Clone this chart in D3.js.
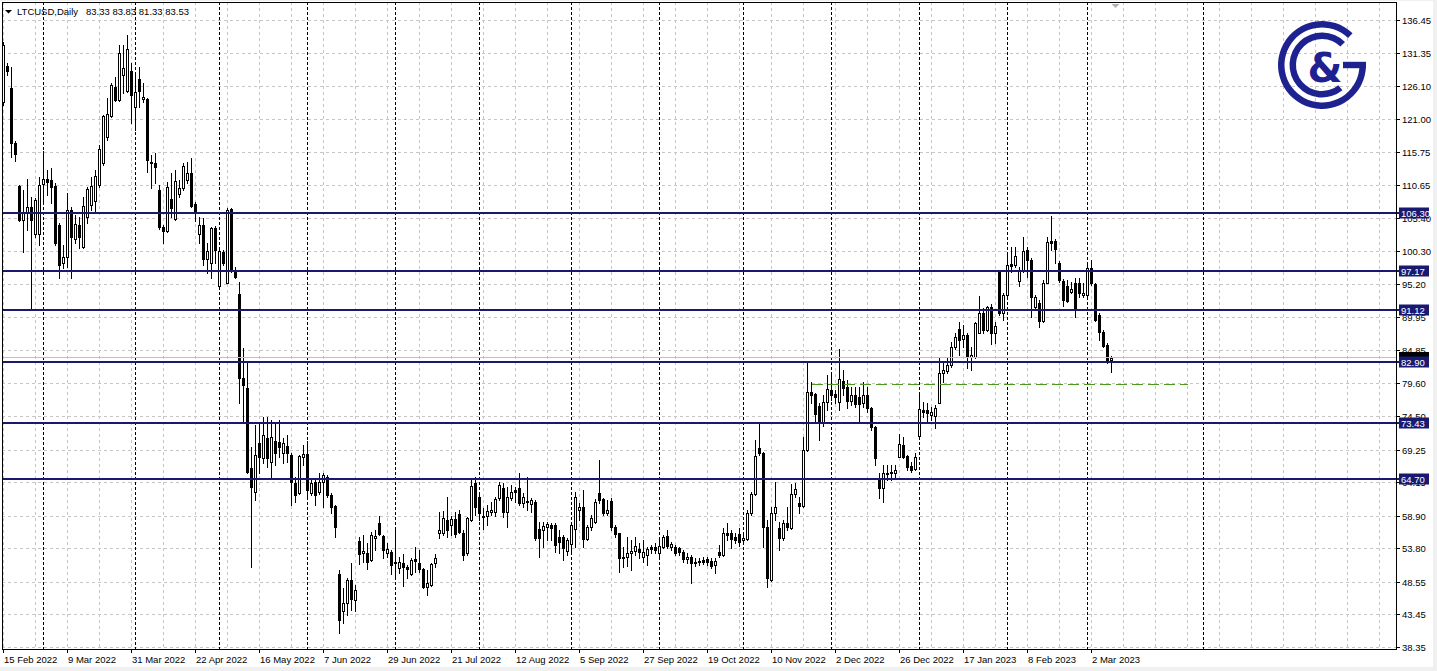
<!DOCTYPE html>
<html><head><meta charset="utf-8">
<script src="https://cdn.jsdelivr.net/npm/d3@7"></script>
<style>
html,body{margin:0;padding:0;background:#f0f0f0;}
svg{display:block;}
text{font-family:"Liberation Sans",Arial,sans-serif;}
</style></head><body>
<svg id="c" width="1437" height="671"></svg>
<script>
// ---------------- DATA ----------------
const symbolTitle = "LTCUSD,Daily";
const firstBarDate = "2022-02-15";          // daily bars, weekdays only
const openP = [123.67,129.25,125.75,117.15,110.47,105.15,106.20,107.19,102.96,102.96,110.73,111.52,111.41,110.47,104.37,98.37,99.42,106.72,102.13,104.37,
100.88,105.57,107.50,108.18,110.63,114.02,118.09,121.43,126.01,123.93,127.84,125.39,128.47,122.89,127.16,124.03,124.03,114.28,114.02,109.85,
104.01,103.38,108.39,105.26,109.22,110.21,111.41,112.56,107.66,102.91,104.37,99.05,98.37,103.96,94.83,100.20,95.35,106.88,97.23,93.57,
80.38,78.82,66.30,62.65,70.21,67.87,70.99,67.34,70.63,70.37,68.75,69.85,68.39,63.95,62.39,68.12,68.54,62.49,64.21,62.65,
64.21,65.00,62.13,60.41,49.77,44.03,45.18,48.83,45.70,54.93,53.00,53.00,51.96,55.35,57.80,55.71,53.00,53.26,51.54,50.65,
51.44,50.92,49.77,52.06,51.44,50.50,47.79,48.05,51.44,56.13,56.13,58.22,57.43,58.32,59.15,56.13,53.00,58.22,64.06,61.87,
58.63,58.84,59.52,59.52,61.61,63.17,59.52,61.61,62.91,63.17,60.82,61.19,60.67,61.08,56.76,56.65,57.17,57.43,57.43,55.50,
55.50,53.42,54.46,56.76,59.78,60.30,55.19,57.07,57.96,62.49,61.45,59.26,61.24,57.07,56.13,52.22,52.38,53.00,53.42,53.63,
52.48,52.74,53.94,53.94,53.00,54.04,55.71,53.94,53.94,53.78,53.26,52.06,52.48,51.70,51.85,51.96,52.06,51.85,51.18,53.26,
52.74,56.24,56.13,55.50,56.03,55.09,55.19,59.26,62.23,69.43,68.75,57.07,48.83,59.36,56.91,55.35,57.80,56.91,62.28,60.82,
60.41,69.17,78.29,77.93,76.05,73.44,76.73,78.55,77.93,76.73,80.01,78.97,76.89,77.77,77.41,76.47,77.77,75.79,72.71,64.58,
63.17,65.41,65.52,65.62,68.12,69.95,68.23,66.66,66.14,71.36,75.43,75.43,74.64,74.49,76.57,81.16,81.58,82.47,85.33,88.05,
86.48,87.16,83.66,83.77,87.52,90.55,87.94,91.49,87.42,97.07,90.55,93.42,98.22,98.11,95.66,97.33,100.46,98.89,91.49,92.11,
89.40,95.35,101.92,101.92,98.48,95.66,94.83,93.94,95.24,95.24,93.42,93.42,97.59,95.14,90.29,87.68,85.59,83.33];
const highP = [133.00,129.80,129.14,117.50,110.63,109.85,111.57,108.80,108.54,111.93,116.00,112.98,113.24,110.89,104.74,101.24,109.33,107.24,105.94,105.68,
108.80,110.37,111.93,112.98,116.89,121.58,124.19,126.54,127.58,132.53,132.53,134.10,129.67,128.36,129.14,126.54,124.19,115.32,115.58,110.63,
104.37,111.15,112.46,112.98,111.41,114.02,114.28,114.80,108.02,105.68,105.42,101.50,104.11,104.22,100.72,100.46,107.08,106.98,97.85,95.50,
85.07,82.99,69.69,73.08,73.34,74.38,74.38,73.86,73.45,73.86,70.99,71.52,68.65,65.00,68.39,69.95,70.63,64.47,64.47,65.52,
65.62,65.26,62.39,60.56,50.40,47.53,49.09,51.44,48.05,55.61,55.87,54.67,56.39,56.65,58.84,55.87,54.57,53.52,56.65,52.48,
52.90,51.18,52.22,54.04,53.52,50.66,50.40,51.54,52.90,59.52,59.68,61.87,58.84,59.52,59.78,56.65,58.74,64.47,64.99,62.39,
60.04,60.56,61.08,61.87,64.21,63.95,63.43,63.69,63.43,65.52,62.39,64.89,61.61,61.35,57.96,57.96,57.96,57.69,57.69,56.65,
55.87,55.35,57.69,62.65,60.82,62.91,57.43,59.00,61.45,67.60,61.61,61.35,61.61,57.43,56.24,54.04,55.61,55.09,55.61,54.57,
55.09,54.04,54.31,54.57,55.61,55.87,56.65,54.83,54.31,54.04,53.52,53.00,52.74,52.22,52.22,52.38,52.48,52.22,52.22,54.31,
56.91,57.69,56.65,56.13,56.91,55.87,59.78,62.65,70.73,73.60,68.91,58.22,60.30,64.21,57.96,58.22,60.30,63.85,63.95,61.87,
71.25,83.14,79.86,78.03,76.47,77.77,80.90,81.16,78.55,84.92,81.68,80.12,79.07,79.07,79.07,79.86,79.07,75.95,72.92,65.52,
66.82,66.82,66.82,66.82,71.67,71.25,68.39,67.34,68.65,78.29,76.73,76.47,75.95,76.21,83.51,82.99,83.51,86.00,87.42,89.24,
88.72,87.42,85.33,89.24,93.26,91.33,91.70,92.01,89.24,97.33,93.68,99.94,100.98,100.98,97.85,102.44,100.87,99.15,93.42,92.63,
95.76,102.54,105.78,102.13,98.79,95.87,95.76,95.50,96.02,96.02,95.24,98.63,98.89,95.35,90.55,87.94,85.85,83.83];
const lowP = [123.20,127.80,115.06,114.39,105.05,100.20,103.59,91.33,102.55,101.24,107.76,109.07,107.76,101.24,96.13,97.59,97.85,96.03,101.50,100.72,
100.72,104.63,106.72,106.46,110.37,113.76,117.67,121.32,123.82,123.82,124.97,125.23,120.38,119.23,122.89,123.67,112.72,110.11,110.89,103.75,
101.50,103.28,105.68,105.15,108.80,109.85,110.89,107.24,105.05,101.50,98.11,96.81,96.03,98.37,94.72,98.11,95.25,97.07,96.03,76.47,
73.34,65.52,50.92,61.35,65.52,67.08,66.56,64.89,66.82,68.12,67.08,67.34,60.56,61.08,62.28,66.82,61.61,62.13,60.56,62.28,
60.30,61.87,59.26,55.61,40.48,42.05,43.35,44.14,44.03,51.33,51.70,50.50,51.85,53.52,55.87,52.32,52.48,49.77,48.93,49.87,
47.89,49.09,49.61,50.13,50.13,47.53,46.48,47.89,50.92,55.35,55.87,55.61,55.87,55.61,56.13,51.96,52.74,58.11,59.00,58.22,
56.76,57.43,59.00,58.84,61.35,58.74,57.17,61.35,61.08,60.56,60.30,59.78,59.52,55.09,52.38,54.04,55.09,55.09,53.26,53.00,
51.96,52.74,53.26,54.04,58.22,54.04,55.09,56.65,57.69,60.82,59.00,59.00,56.65,55.61,50.13,50.91,51.02,50.39,52.74,52.22,
51.70,51.18,53.00,53.00,52.48,53.78,53.78,53.52,52.74,52.74,51.70,51.44,48.41,51.02,51.18,51.33,51.18,50.65,49.87,52.48,
52.58,55.09,53.78,54.57,54.15,54.57,55.09,59.00,62.13,68.39,54.04,47.79,48.72,58.22,53.52,55.09,56.65,56.76,61.87,59.26,
60.30,69.06,76.47,73.34,70.73,72.92,75.43,76.99,76.47,75.43,77.77,75.69,76.21,75.95,73.60,75.95,75.16,72.30,66.82,61.61,
61.08,64.47,64.47,64.99,68.02,67.86,66.04,65.78,66.04,71.25,74.38,73.34,73.86,72.56,76.47,79.86,81.16,82.20,85.00,84.03,
85.33,81.94,81.68,83.51,87.42,87.42,87.84,85.75,85.96,90.29,89.51,93.16,97.07,97.85,94.83,97.07,96.29,90.03,91.07,88.46,
89.24,95.24,100.46,98.37,95.50,91.70,92.37,93.68,90.03,93.16,93.16,93.26,94.98,89.40,86.38,85.33,82.73,81.33];
const closeP = [132.53,128.52,117.25,115.48,105.15,106.20,107.19,105.15,108.28,110.63,111.52,111.15,110.37,101.50,98.11,99.31,106.72,102.55,104.53,102.55,
107.40,109.95,110.47,112.04,116.21,121.43,121.74,126.28,123.93,131.23,128.88,131.86,124.71,125.23,125.34,124.35,114.54,114.02,113.39,104.01,
103.38,110.37,106.98,111.26,110.11,113.60,112.56,107.40,106.20,104.37,99.05,100.36,103.96,100.46,100.36,98.37,106.72,97.23,96.18,80.38,
79.34,65.78,63.43,68.39,68.12,71.52,67.87,71.26,68.65,69.69,70.32,68.65,64.21,62.13,68.28,68.54,62.91,64.06,62.13,64.21,
65.26,62.13,60.30,57.17,42.57,45.18,48.83,45.80,47.27,52.90,53.37,51.70,55.87,55.71,55.97,53.52,53.63,51.18,51.70,51.70,
50.92,50.50,51.96,51.85,50.50,47.79,48.41,51.28,52.22,56.65,58.48,56.65,58.32,56.03,56.39,52.74,58.48,63.54,60.30,59.26,
58.84,59.68,59.78,61.45,63.69,59.52,61.87,62.65,62.65,60.93,61.87,60.98,61.35,55.35,55.35,57.28,57.59,56.91,54.31,54.83,
53.78,55.09,57.43,61.76,60.30,55.19,57.07,58.48,61.08,61.35,59.36,59.78,57.17,56.03,52.22,52.48,53.00,53.37,54.15,53.26,
53.26,53.63,53.73,53.52,54.15,55.61,54.15,54.46,53.11,53.26,52.06,52.38,51.54,51.44,51.64,51.70,51.70,51.02,51.85,52.74,
56.13,55.87,55.19,55.09,54.83,55.35,59.26,62.23,68.23,68.75,57.17,49.09,59.36,60.20,55.35,57.80,57.07,62.28,63.01,60.41,
69.17,78.29,77.77,74.80,73.44,76.73,78.66,77.77,77.41,80.22,78.81,76.89,77.77,76.36,76.36,77.77,75.69,72.71,67.86,63.17,
65.52,65.62,65.73,66.04,70.11,68.12,66.45,66.04,68.02,75.53,75.16,75.01,75.16,75.69,81.16,81.68,82.47,85.33,86.90,86.38,
87.16,83.66,84.03,88.98,90.65,87.94,91.49,87.42,88.57,90.55,93.42,98.11,98.01,99.52,97.33,100.35,98.89,93.16,93.16,89.40,
95.35,101.76,101.60,100.56,95.76,92.63,92.53,94.30,91.33,93.68,93.78,97.59,95.24,89.51,87.68,85.44,83.25,83.53];

const priceTicks = [136.45,131.35,126.10,121.00,115.75,110.65,105.40,100.30,95.20,89.95,84.85,79.60,74.50,69.25,64.15,58.90,53.80,48.55,43.45,38.35];
const levelPrices = [106.30, 97.17, 91.12, 82.90, 73.43, 64.70];
const greenPrice = 79.55;
const greenFromBar = 202.25, greenToBar = 296.25;
const labelEvery = 16, gridEvery = 8;

// ---------------- SETUP ----------------
const n = openP.length;
const dates = [];
{ const d = new Date(firstBarDate + "T00:00:00");
  while (dates.length < n) { const w = d.getDay(); if (w !== 0 && w !== 6) dates.push(new Date(d)); d.setDate(d.getDate() + 1); } }
const fmt = d3.timeFormat("%-d %b %Y");
const bars = d3.range(n).map(i => ({i, o: openP[i], h: highP[i], l: lowP[i], c: closeP[i]}));

const L = 2, R = 1396, T = 2, B = 649;
const x = d3.scaleLinear().domain([0, n - 1]).range([3, 3 + 4 * (n - 1)]);
const y = d3.scaleLinear().domain([38.35, 136.45]).range([647, 20]);
const Y = v => Math.round(y(v));
const maxIdx = Math.floor(x.invert(R));

const svg = d3.select("#c");
svg.append("rect").attr("width", 1437).attr("height", 671).attr("fill", "#f0f0f0");
svg.append("rect").attr("y", 1).attr("width", 1433).attr("height", 666).attr("fill", "#ffffff");

const plot = svg.append("g");
svg.append("clipPath").attr("id", "pc").append("rect").attr("x", L).attr("y", T).attr("width", R - L).attr("height", B - T);

// grid horizontal
plot.append("g").attr("shape-rendering", "crispEdges")
  .selectAll("line").data(priceTicks).join("line")
  .attr("x1", L).attr("x2", R).attr("y1", d => Y(d) + 0.5).attr("y2", d => Y(d) + 0.5)
  .attr("stroke", "#c6c6c6").attr("stroke-dasharray", "3,3");
// grid vertical
plot.append("g").attr("shape-rendering", "crispEdges")
  .selectAll("line").data(d3.range(0, maxIdx + 1, gridEvery)).join("line")
  .attr("x1", d => Math.round(x(d)) + 0.5).attr("x2", d => Math.round(x(d)) + 0.5).attr("y1", T).attr("y2", B)
  .attr("stroke", "#c6c6c6").attr("stroke-dasharray", "3,3");
// month separators (bars), plus first one in the empty right-shift area (calendar days)
const sepX = d3.range(1, n).filter(i => dates[i].getMonth() !== dates[i - 1].getMonth()).map(i => Math.round(x(i)));
{ const last = dates[n - 1]; const nextM = d3.timeMonth.ceil(d3.timeDay.offset(last, 1));
  const fx = Math.round(x(n - 1) + (x(1) - x(0)) * d3.timeDay.count(last, nextM));
  if (fx < R) sepX.push(fx); }
plot.append("g").attr("shape-rendering", "crispEdges")
  .selectAll("line").data(sepX).join("line")
  .attr("x1", d => d + 0.5).attr("x2", d => d + 0.5).attr("y1", T).attr("y2", B)
  .attr("stroke", "#000").attr("stroke-dasharray", "3,2");

// logo
const logoC = "#1e2290";
const lg = svg.append("g").attr("transform", "translate(1322,65)");
const arc = d3.arc();
const deg = Math.PI / 180;
lg.append("path").attr("fill", logoC).attr("d", arc({innerRadius: 37.5, outerRadius: 44, startAngle: -270 * deg, endAngle: 44 * deg}));
lg.append("path").attr("fill", logoC).attr("d", arc({innerRadius: 26, outerRadius: 32.5, startAngle: -219 * deg, endAngle: 45 * deg}));
lg.append("rect").attr("x", 21).attr("y", -3.2).attr("width", 23).attr("height", 6.4).attr("fill", logoC);
lg.append("text").attr("x", 3).attr("y", 17).attr("text-anchor", "middle").attr("font-size", 40).attr("font-weight", "bold")
  .style("font-family", "'DejaVu Sans',sans-serif").attr("fill", logoC).text("&");

// candles
const cg = plot.append("g").attr("clip-path", "url(#pc)").attr("shape-rendering", "crispEdges");
const cs = cg.selectAll("g").data(bars).join("g");
cs.append("line")
  .attr("x1", d => Math.round(x(d.i)) + 0.5).attr("x2", d => Math.round(x(d.i)) + 0.5)
  .attr("y1", d => Y(d.h)).attr("y2", d => Y(d.l) + 1).attr("stroke", "#000");
cs.filter(d => d.c < d.o).append("rect")
  .attr("x", d => Math.round(x(d.i)) - 1).attr("width", 3)
  .attr("y", d => Y(d.o)).attr("height", d => Math.max(1, Y(d.c) - Y(d.o)) + 1)
  .attr("fill", "#000");
cs.filter(d => d.c >= d.o).append("rect")
  .attr("x", d => Math.round(x(d.i)) - 0.5).attr("width", 2)
  .attr("y", d => Y(d.c) + 0.5).attr("height", d => Math.max(0, Y(d.o) - Y(d.c)))
  .attr("fill", "#fff").attr("stroke", "#000");

// level lines
const lv = plot.append("g").attr("shape-rendering", "crispEdges");
lv.selectAll("line").data(levelPrices).join("line")
  .attr("x1", L).attr("x2", R + 4).attr("y1", d => Y(d)).attr("y2", d => Y(d))
  .attr("stroke", "#191970").attr("stroke-width", 2);
// green dashed line
plot.append("line").attr("shape-rendering", "crispEdges")
  .attr("x1", x(greenFromBar)).attr("x2", x(greenToBar)).attr("y1", Y(greenPrice) + 0.5).attr("y2", Y(greenPrice) + 0.5)
  .attr("stroke", "#4c9a1c").attr("stroke-dasharray", "11,5");
// bid line
const bid = closeP[n - 1];
plot.append("line").attr("shape-rendering", "crispEdges")
  .attr("x1", L).attr("x2", R).attr("y1", Y(bid) - 0.5).attr("y2", Y(bid) - 0.5).attr("stroke", "#c0c0c0");

// frame
svg.append("rect").attr("x", L + 0.5).attr("y", T + 0.5).attr("width", R - L).attr("height", B - T - 0.5)
  .attr("fill", "none").attr("stroke", "#000").attr("shape-rendering", "crispEdges");

// right axis
const ra = svg.append("g");
ra.selectAll("line").data(priceTicks).join("line").attr("shape-rendering", "crispEdges")
  .attr("x1", R).attr("x2", R + 4).attr("y1", d => Y(d) + 0.5).attr("y2", d => Y(d) + 0.5).attr("stroke", "#000");
ra.selectAll("text").data(priceTicks).join("text")
  .attr("x", R + 6).attr("y", d => Y(d) + 4).attr("font-size", 9.5).attr("fill", "#000").text(d => d.toFixed(2));
// bid label (mostly hidden under the 82.90 label)
svg.append("rect").attr("x", R + 3).attr("y", Y(bid) - 6).attr("width", 30).attr("height", 11).attr("fill", "#000");
// level labels
const ll = svg.append("g");
ll.selectAll("rect").data(levelPrices).join("rect")
  .attr("x", R + 3).attr("y", d => Y(d) - 5.5).attr("width", 30).attr("height", 11).attr("fill", "#191970");
ll.selectAll("text").data(levelPrices).join("text")
  .attr("x", R + 5).attr("y", d => Y(d) + 4).attr("font-size", 9.5).attr("fill", "#fff").text(d => d.toFixed(2));

// bottom axis
const labIdx = d3.range(0, n, labelEvery);
const ba = svg.append("g");
ba.selectAll("line").data(labIdx).join("line").attr("shape-rendering", "crispEdges")
  .attr("x1", d => Math.round(x(d)) + 0.5).attr("x2", d => Math.round(x(d)) + 0.5).attr("y1", B).attr("y2", B + 4).attr("stroke", "#000");
ba.selectAll("text").data(labIdx).join("text")
  .attr("x", d => Math.round(x(d)) + 1).attr("y", 663).attr("font-size", 9.5).attr("fill", "#000").text(d => fmt(dates[d]));

// title
svg.append("path").attr("d", "M5,10 L12,10 L8.5,13.5 Z").attr("fill", "#000");
svg.append("text").attr("x", 17).attr("y", 14.5).attr("font-size", 9.5).text(symbolTitle);
svg.append("text").attr("x", 86).attr("y", 14.5).attr("font-size", 9.5)
  .text([openP[n - 1], highP[n - 1], lowP[n - 1], closeP[n - 1]].map(v => v.toFixed(2)).join(" "));
// shift marker
svg.append("path").attr("d", "M1111.5,4 L1119.5,4 L1115.5,8 Z").attr("fill", "#b0b0b0");
</script>
</body></html>
